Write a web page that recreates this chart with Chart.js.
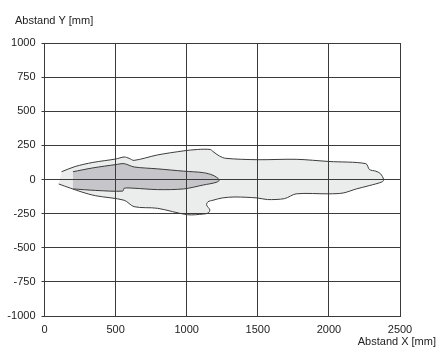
<!DOCTYPE html>
<html>
<head>
<meta charset="utf-8">
<script src="https://cdn.jsdelivr.net/npm/chart.js@4"></script>
<style>
  html, body { margin: 0; padding: 0; background: #fff; }
</style>
</head>
<body>
<canvas id="chart" width="440" height="356"></canvas>
<script>
/*
Data
*/
const xTicks = [0, 500, 1000, 1500, 2000, 2500];
const yTicks = [-1000, -750, -500, -250, 0, 250, 500, 750, 1000];
const xTitle = "Abstand X [mm]";
const yTitle = "Abstand Y [mm]";

// outer (light) field, traced clockwise from the left end
const outerX = [120, 215, 340, 500, 560, 595, 630, 795, 980, 1075, 1165, 1185, 1230, 1275, 1500, 1770, 2000, 2260, 2285, 2330, 2362, 2385,
                2375, 2283, 2193, 2100, 2000, 1770, 1688, 1568, 1495, 1340, 1250, 1185, 1150, 1140, 1163, 1150, 1118, 1005, 795, 630, 560, 360, 263, 100];
const outerY = [57, 95, 125, 150, 165, 155, 140, 180, 210, 220, 220, 205, 172, 155, 145, 148, 132, 116, 73, 61, 43, 0,
                -17, -45, -69, -99, -105, -105, -140, -147, -135, -128, -135, -152, -163, -187, -223, -246, -253, -258, -211, -199, -152, -119, -92, -33];

// inner (dark) field
const innerX = [200, 340, 500, 560, 630, 795, 980, 1118, 1185, 1230, 1207, 1118, 980, 795, 630, 560, 550, 360, 200];
const innerY = [57, 85, 109, 116, 92, 78, 61, 50, 31, -3, -21, -40, -69, -74, -64, -64, -85, -80, -69];

function toPoints(xs, ys) {
    return xs.map((x, i) => ({ x: x, y: ys[i] }));
}

const axisTitles = {
    id: "axisTitles",
    afterDraw(chart) {
        const ctx = chart.ctx;
        ctx.save();
        ctx.font = '11px "Liberation Sans", Arial, sans-serif';
        ctx.fillStyle = "#222";
        ctx.textBaseline = "alphabetic";
        ctx.textAlign = "left";
        ctx.fillText(yTitle, 15, 24);
        ctx.textAlign = "right";
        ctx.fillText(xTitle, 436, 345);
        ctx.restore();
    }
};

const gridColor = "#3a3a3a";
const tickFont = { family: '"Liberation Sans", Arial, sans-serif', size: 11 };

new Chart(document.getElementById("chart"), {
    type: "scatter",
    data: {
        datasets: [
            {
                data: toPoints(outerX, outerY),
                showLine: true,
                fill: "shape",
                backgroundColor: "#ebecec",
                borderColor: "#3c3c3c",
                borderWidth: 1,
                pointRadius: 0,
                tension: 0.3,
                order: 2
            },
            {
                data: toPoints(innerX, innerY),
                showLine: true,
                fill: "shape",
                backgroundColor: "#c6c6ca",
                borderColor: "#3c3c3c",
                borderWidth: 1,
                pointRadius: 0,
                tension: 0.3,
                order: 1
            }
        ]
    },
    options: {
        responsive: false,
        animation: false,
        layout: { padding: { top: 43, right: 40, left: 0, bottom: 0 } },
        plugins: {
            legend: { display: false },
            tooltip: { enabled: false }
        },
        scales: {
            x: {
                type: "linear",
                min: 0,
                max: 2500,
                afterFit: (s) => { s.height = 40; },
                afterBuildTicks: (s) => { s.ticks = xTicks.map(v => ({ value: v })); },
                grid: { color: gridColor, lineWidth: 1, drawTicks: false, z: 1 },
                border: { color: gridColor, width: 1, z: 1 },
                ticks: { font: tickFont, color: "#222", padding: 7, maxRotation: 0, callback: (v) => String(v) }
            },
            y: {
                type: "linear",
                min: -1000,
                max: 1000,
                afterFit: (s) => { s.width = 44.5; },
                afterBuildTicks: (s) => { s.ticks = yTicks.map(v => ({ value: v })); },
                grid: { color: gridColor, lineWidth: 1, tickLength: 3, z: 1 },
                border: { color: gridColor, width: 1, z: 1 },
                ticks: { font: tickFont, color: "#222", padding: 6, callback: (v) => String(v) }
            }
        }
    },
    plugins: [axisTitles]
});
</script>
</body>
</html>
